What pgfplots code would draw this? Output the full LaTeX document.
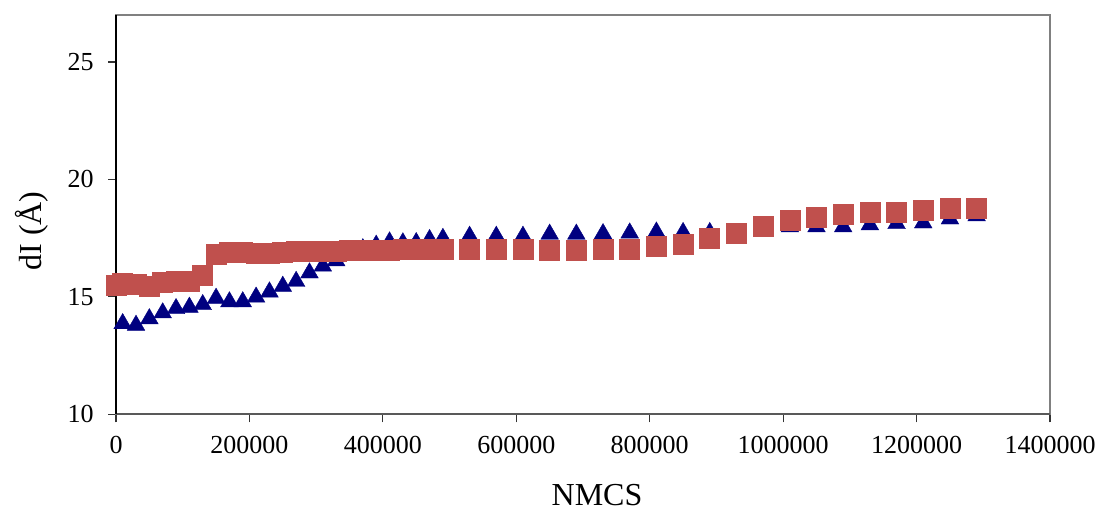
\documentclass[border=0pt]{standalone}
\usepackage{fontspec}
\setmainfont{Liberation Serif}
\usepackage{pgfplots}
\pgfplotsset{compat=1.18}
\definecolor{triblue}{HTML}{000080}
\definecolor{sqred}{HTML}{C0504D}

\begin{document}
\begin{tikzpicture}
\useasboundingbox (0,0) rectangle (550.5pt,-255.5pt);
\begin{axis}[
    at={(58pt,-207.15pt)},
    anchor=south west,
    scale only axis,
    width=467pt,
    height=199.65pt,
    xmin=0, xmax=1400000,
    ymin=10, ymax=27,
    xtick={0,200000,400000,600000,800000,1000000,1200000,1400000},
    ytick={10,15,20,25},
    scaled x ticks=false,
    /pgf/number format/fixed,
    /pgf/number format/assume math mode=true,
    /pgf/number format/set thousands separator={},
    xtick pos=bottom,
    ytick pos=left,
    tick align=outside,
    major tick length=4pt,
    tick style={black!80, line width=0.6pt},
    axis line style={gray, line width=1pt},
    ticklabel style={font=\fontsize{13}{15}\selectfont},
    xticklabel style={yshift=-3.4pt},
    yticklabel style={xshift=-3.7pt},
    xlabel={NMCS},
    ylabel={dI (Å)},
    label style={font=\fontsize{16}{18}\selectfont},
    xlabel style={at={(rel axis cs:0.515,0)}, anchor=base, yshift=-45.6pt},
    ylabel style={at={(rel axis cs:0,0.459)}, anchor=center, yshift=42.25pt},
    clip=false
]

% axis spines as in the original
\draw[black!65, line width=1pt] (rel axis cs:0,0) -- (rel axis cs:1,0);
\draw[black, line width=0.8pt] (rel axis cs:0,0) -- (rel axis cs:0,1);

% --- blue triangles ---
\addplot[
    only marks,
    mark=triangle*,
    mark size=5.1pt,
    mark options={fill=triblue, draw=triblue, line width=0.2pt, yshift=-1.3pt}
]
coordinates {
(10000,13.97) (30000,13.90) (50000,14.18) (70000,14.43) (90000,14.61)
(110000,14.67) (130000,14.78) (150000,15.05) (170000,14.90) (190000,14.90)
(210000,15.10) (230000,15.32) (250000,15.56) (270000,15.77) (290000,16.13)
(310000,16.42) (330000,16.65) (350000,16.90) (370000,17.16) (390000,17.31)
(410000,17.45) (430000,17.41) (450000,17.42) (470000,17.55) (490000,17.60)
(530000,17.69) (570000,17.69) (610000,17.69) (650000,17.78) (690000,17.78)
(730000,17.80) (770000,17.83) (810000,17.87) (850000,17.85) (890000,17.85)
(930000,17.80) (970000,17.95) (1010000,18.09) (1050000,18.09) (1090000,18.09)
(1130000,18.18) (1170000,18.23) (1210000,18.26) (1250000,18.43) (1290000,18.56)
};

% --- red squares ---
\addplot[
    only marks,
    mark=square*,
    mark size=5pt,
    mark options={fill=sqred, draw=sqred, line width=0.3pt}
]
coordinates {
(0,15.51) (10000,15.59) (30000,15.52) (50000,15.44) (70000,15.60)
(90000,15.67) (110000,15.68) (130000,15.90) (150000,16.82) (170000,16.90)
(190000,16.90) (210000,16.84) (230000,16.86) (250000,16.90) (270000,16.92)
(290000,16.92) (310000,16.92) (330000,16.94) (350000,16.97) (370000,16.98)
(390000,16.99) (410000,17.00) (430000,17.01) (450000,17.02) (470000,17.03)
(490000,17.03) (530000,17.03) (570000,17.04) (610000,17.04) (650000,16.97)
(690000,17.00) (730000,17.01) (770000,17.01) (810000,17.17) (850000,17.24)
(890000,17.51) (930000,17.70) (970000,17.99) (1010000,18.25) (1050000,18.39)
(1090000,18.50) (1130000,18.58) (1170000,18.60) (1210000,18.67) (1250000,18.76)
(1290000,18.76)
};

\end{axis}
\end{tikzpicture}
\end{document}
